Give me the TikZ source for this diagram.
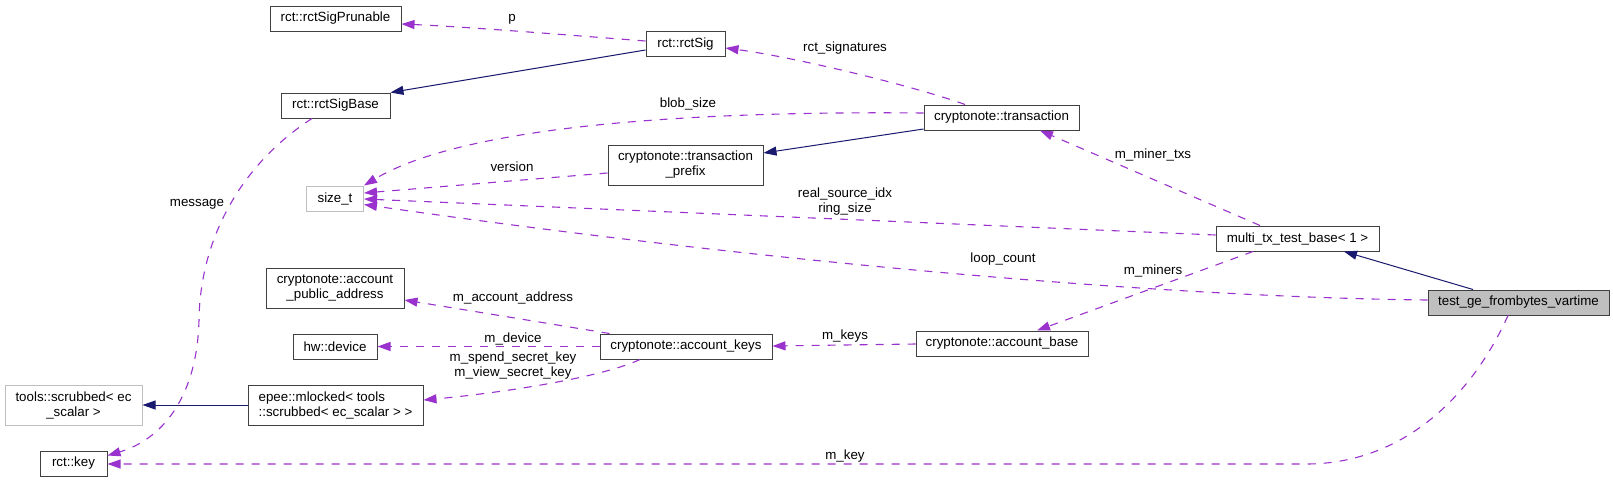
\documentclass[tikz,border=0pt]{standalone}
\usepackage{fontspec}
\setmainfont{Liberation Sans}
\usetikzlibrary{arrows.meta,calc}
\definecolor{depc}{HTML}{9A32CD}
\definecolor{inhc}{HTML}{191970}
\definecolor{bordc}{HTML}{404040}
\definecolor{lightc}{HTML}{BFBFBF}
\begin{document}
\begin{tikzpicture}[x=1pt,y=-1pt,
  font=\fontsize{13.33}{15}\selectfont,
  cls/.style={draw=bordc,line width=1pt,fill=white,inner sep=0pt,minimum height=25pt,align=center},
  ext/.style={cls,draw=lightc},
  cur/.style={cls,fill=lightc},
  tall/.style={minimum height=40pt},
  depedge/.style={draw=depc,line width=1.1pt,dash pattern=on 8pt off 8pt,-{Triangle[length=13pt,width=9pt]}},
  inhedge/.style={draw=inhc,line width=1pt,-{Triangle[length=13pt,width=9pt]}},
  lbl/.style={inner sep=0pt,align=center}]
\fill[white] (0,0) rectangle (1613,483);
\useasboundingbox (0,0) rectangle (1613,483);

% nodes
\node[cls,minimum width=131pt] (prunable) at (335.5,18.5) {rct::rctSigPrunable};
\node[cls,minimum width=79pt] (sig) at (685.5,44) {rct::rctSig};
\node[cls,minimum width=109pt] (sigbase) at (335.5,105.5) {rct::rctSigBase};
\node[cls,minimum width=155pt] (trans) at (1001.5,117.5) {cryptonote::transaction};
\node[cls,tall,minimum width=155pt] (prefix) at (685.5,165) {cryptonote::transaction\\\_prefix};
\node[ext,minimum width=57pt] (sizet) at (335,198.5) {size\_t};
\node[cls,minimum width=163pt] (multi) at (1297.5,238.5) {multi\_tx\_test\_base< 1 >};
\node[cur,minimum width=181pt] (testge) at (1518.5,302.5) {test\_ge\_frombytes\_vartime};
\node[cls,tall,minimum width=138pt] (pubaddr) at (335,288) {cryptonote::account\\\_public\_address};
\node[cls,minimum width=172pt] (keys) at (686,346.5) {cryptonote::account\_keys};
\node[cls,minimum width=172pt] (base) at (1002,343.5) {cryptonote::account\_base};
\node[cls,minimum width=84pt] (device) at (335,346.5) {hw::device};
\node[ext,tall,minimum width=137pt] (tools) at (73.5,405) {tools::scrubbed< ec\\\_scalar >};
\node[cls,tall,minimum width=175pt,align=left] (mlocked) at (335.5,405) {epee::mlocked< tools\\::scrubbed< ec\_scalar > >};
\node[cls,minimum width=67pt] (key) at (73.5,463.5) {rct::key};

% edges
\draw[depedge] ($(sig.west)+(0,-3)$) .. controls (580,36) and (470,27) .. ($(prunable.east)+(0,5.5)$);
\node[lbl] (lp) at (512,19) {p};

\draw[inhedge] ($(sig.west)+(0,6)$) -- (sigbase.north east);

\draw[depedge] ($(trans.north)+(-36.5,0)$) .. controls (920,88) and (800,58) .. ($(sig.east)+(0,4)$);
\node[lbl] (lrs) at (845,48) {rct\_signatures};

\draw[depedge] ($(trans.west)+(0,-4.5)$) .. controls (720,111) and (470,122) .. (sizet.north east);
\node[lbl] (lbs) at (688,104) {blob\_size};

\draw[inhedge] ($(trans.west)+(0,11.5)$) -- ($(prefix.east)+(0,-12)$);

\draw[depedge] ($(prefix.west)+(0,8)$) -- ($(sizet.east)+(0,-5.5)$);
\node[lbl] (lv) at (512,167) {version};

\draw[depedge] ($(multi.west)+(0,-3.5)$) -- ($(sizet.east)+(0,0.5)$);
\node[lbl] (lrsi) at (845,201.5) {real\_source\_idx\\ring\_size};

\draw[depedge] ($(testge.west)+(0,-2.5)$) .. controls (1150,297) and (750,260) .. ($(sizet.east)+(0,6)$);
\node[lbl] (llc) at (1003,259) {loop\_count};

\draw[depedge] ($(multi.north)+(-37.5,0)$) -- ($(trans.south)+(38.5,0)$);
\node[lbl] (lmt) at (1153,155) {m\_miner\_txs};

\draw[inhedge] ($(testge.north)+(-45.5,0)$) -- ($(multi.south)+(46.5,0)$);

\draw[depedge] ($(multi.south)+(-44.5,0)$) -- ($(base.north)+(35,0)$);
\node[lbl] (lmm) at (1153,271) {m\_miners};

\draw[depedge] ($(base.west)+(0,0.5)$) -- ($(keys.east)+(0,-0.5)$);
\node[lbl] (lmk) at (845,336) {m\_keys};

\draw[depedge] ($(keys.north west)+(10,0)$) -- ($(pubaddr.east)+(0,12)$);
\node[lbl] (lma) at (513,298) {m\_account\_address};

\draw[depedge] (keys.west) -- (device.east);
\node[lbl] (lmd) at (513,339) {m\_device};

\draw[depedge] ($(keys.south)+(-46,0)$) .. controls (600,378) and (500,393) .. ($(mlocked.east)+(0,-5)$);
\node[lbl] (lsk) at (513,366) {m\_spend\_secret\_key\\m\_view\_secret\_key};

\draw[inhedge] (mlocked.west) -- (tools.east);

\draw[depedge] ($(sigbase.south)+(-23.5,0)$) .. controls (240,165) and (200,240) .. (199,320) .. controls (197,400) and (160,440) .. ($(key.east)+(0,-8)$);
\node[lbl] (lmsg) at (197,204) {message};

\draw[depedge] ($(testge.south)+(-10.5,0)$) .. controls (1470,400) and (1400,464) .. (1306,464) -- ($(key.east)+(0,0.5)$);
\node[lbl] (lkey) at (845,456) {m\_key};
\end{tikzpicture}
\end{document}
